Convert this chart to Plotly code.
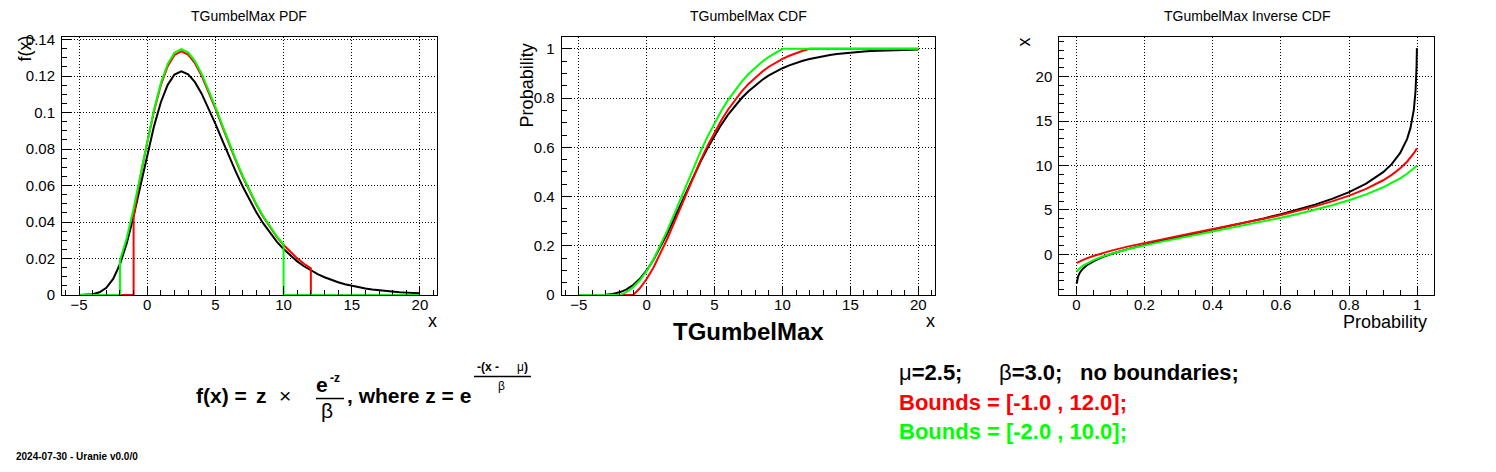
import plotly.graph_objects as go

# ---------------- data ----------------
X_GRID = [-5, -4.5, -4, -3.5, -3, -2.5, -2, -1.5, -1, -0.5, 0, 0.5, 1, 1.5, 2, 2.5, 3, 3.5,
          4, 4.5, 5, 5.5, 6, 6.5, 7, 7.5, 8, 8.5, 9, 9.5, 10, 10.5, 11, 11.5, 12, 12.5, 13,
          13.5, 14, 14.5, 15, 15.5, 16, 16.5, 17, 17.5, 18, 18.5, 19, 19.5, 20]

PDF_BLACK = [0.00002, 0.00011, 0.00047, 0.00152, 0.00400, 0.00885, 0.01690, 0.02847, 0.04315,
             0.05979, 0.07684, 0.09259, 0.10568, 0.11521, 0.12084, 0.12263, 0.12103, 0.11666,
             0.11024, 0.10242, 0.09381, 0.08488, 0.07603, 0.06751, 0.05950, 0.05212, 0.04542,
             0.03940, 0.03405, 0.02934, 0.02521, 0.02161, 0.01849, 0.01579, 0.01347, 0.01147,
             0.00977, 0.00831, 0.00706, 0.00599, 0.00509, 0.00432, 0.00366, 0.00311, 0.00263,
             0.00223, 0.00189, 0.00160, 0.00136, 0.00115, 0.00097]

RED_PDF_X = [-5, -1, -1, -0.5, 0, 0.5, 1, 1.5, 2, 2.5, 3, 3.5, 4, 4.5, 5, 5.5, 6, 6.5, 7, 7.5,
             8, 8.5, 9, 9.5, 10, 10.5, 11, 11.5, 12, 12, 20]
RED_PDF_Y = [0, 0, 0.043, 0.06510, 0.08367, 0.10082, 0.11507, 0.12545, 0.13158, 0.13353,
             0.13178, 0.12703, 0.12004, 0.11152, 0.10215, 0.09242, 0.08279, 0.07351, 0.06479,
             0.05675, 0.04946, 0.04290, 0.03708, 0.03195, 0.02745, 0.02353, 0.02013, 0.01719,
             0.01467, 0, 0]

GREEN_PDF_X = [-5, -2, -2, -1.5, -1, -0.5, 0, 0.5, 1, 1.5, 2, 2.5, 3, 3.5, 4, 4.5, 5, 5.5, 6,
               6.5, 7, 7.5, 8, 8.5, 9, 9.5, 10, 10, 20]
GREEN_PDF_Y = [0, 0, 0.019, 0.03129, 0.04742, 0.06571, 0.08445, 0.10176, 0.11614, 0.12662,
               0.13281, 0.13477, 0.13301, 0.12821, 0.12116, 0.11256, 0.10310, 0.09329, 0.08356,
               0.07420, 0.06539, 0.05728, 0.04992, 0.04330, 0.03742, 0.03225, 0.02771, 0, 0]

CDF_BLACK = [0.00001, 0.00003, 0.00016, 0.00062, 0.00192, 0.00502, 0.01131, 0.02251, 0.04031,
             0.06599, 0.10019, 0.14262, 0.19230, 0.24766, 0.30685, 0.36788, 0.42891, 0.48846,
             0.54524, 0.59844, 0.64756, 0.69220, 0.73243, 0.76832, 0.80003, 0.82788, 0.85225,
             0.87342, 0.89176, 0.90758, 0.92119, 0.93287, 0.94288, 0.95144, 0.95873, 0.96495,
             0.97026, 0.97476, 0.97859, 0.98185, 0.98462, 0.98696, 0.98895, 0.99064, 0.99207,
             0.99328, 0.99431, 0.99518, 0.99592, 0.99655, 0.99708]

RED_CDF_X = [-5, -1, -0.5, 0, 0.5, 1, 1.5, 2, 2.5, 3, 3.5, 4, 4.5, 5, 5.5, 6, 6.5, 7, 7.5, 8,
             8.5, 9, 9.5, 10, 10.5, 11, 11.5, 12, 20]
RED_CDF_Y = [0, 0, 0.02796, 0.06520, 0.11140, 0.16549, 0.22577, 0.29022, 0.35667, 0.42312,
             0.48796, 0.54978, 0.60771, 0.66119, 0.70979, 0.75360, 0.79268, 0.82720, 0.85753,
             0.88406, 0.90711, 0.92708, 0.94431, 0.95913, 0.97184, 0.98274, 0.99206, 1, 1]

GREEN_CDF_X = [-5, -2, -1.5, -1, -0.5, 0, 0.5, 1, 1.5, 2, 2.5, 3, 3.5, 4, 4.5, 5, 5.5, 6, 6.5,
               7, 7.5, 8, 8.5, 9, 9.5, 10, 20]
GREEN_CDF_Y = [0, 0, 0.01231, 0.03187, 0.06010, 0.09768, 0.14432, 0.19892, 0.25976, 0.32481,
               0.39189, 0.45896, 0.52441, 0.58681, 0.64528, 0.69927, 0.74833, 0.79254, 0.83199,
               0.86684, 0.89745, 0.92423, 0.94750, 0.96765, 0.98504, 1, 1]

P_GRID = [0.001, 0.005, 0.01, 0.02, 0.03, 0.05, 0.075, 0.1, 0.15, 0.2, 0.25, 0.3, 0.35, 0.4,
          0.45, 0.5, 0.55, 0.6, 0.65, 0.7, 0.75, 0.8, 0.85, 0.9, 0.925, 0.95, 0.97, 0.98, 0.99,
          0.995, 0.998, 0.999]
INV_BLACK = [-3.298, -2.502, -2.082, -1.592, -1.264, -0.792, -0.355, -0.002, 0.579, 1.072,
             1.520, 1.943, 2.354, 2.762, 3.175, 3.600, 4.043, 4.515, 5.026, 5.593, 6.238, 7.000,
             7.951, 9.251, 10.155, 11.411, 12.974, 14.206, 16.300, 18.387, 21.141, 23.222]
INV_RED = [-0.979, -0.897, -0.802, -0.627, -0.469, -0.189, 0.115, 0.385, 0.863, 1.291, 1.691,
           2.074, 2.450, 2.825, 3.205, 3.595, 4.002, 4.431, 4.892, 5.395, 5.957, 6.602, 7.370,
           8.338, 8.944, 9.683, 10.423, 10.867, 11.383, 11.676, 11.867, 11.932]
INV_GREEN = [-1.948, -1.765, -1.577, -1.278, -1.040, -0.661, -0.286, 0.028, 0.556, 1.009,
             1.422, 1.812, 2.189, 2.560, 2.933, 3.311, 3.702, 4.110, 4.542, 5.008, 5.518, 6.090,
             6.751, 7.545, 8.016, 8.558, 9.064, 9.347, 9.659, 9.824, 9.928, 9.964]

X_TICKS = [-5, 0, 5, 10, 15, 20]
X_TICK_TEXT = ["\u22125", "0", "5", "10", "15", "20"]
PDF_Y_TICKS = [0, 0.02, 0.04, 0.06, 0.08, 0.1, 0.12, 0.14]
PDF_Y_TEXT = ["0", "0.02", "0.04", "0.06", "0.08", "0.1", "0.12", "0.14"]
PROB_TICKS = [0, 0.2, 0.4, 0.6, 0.8, 1]
PROB_TEXT = ["0", "0.2", "0.4", "0.6", "0.8", "1"]
INV_Y_TICKS = [0, 5, 10, 15, 20]
INV_Y_TEXT = ["0", "5", "10", "15", "20"]

# ---------------- figure ----------------
W, H = 1496, 472
FONT = "Liberation Sans, Arial, Helvetica, sans-serif"
BLACK, RED, GREEN = "#000000", "#ff0000", "#00ff00"


def px(x):
    return x / W


def py(y):
    # target picture row -> paper fraction (the page photo is slightly squeezed vertically)
    y_spec = (y - 5.4) / 0.973
    return 1 - y_spec / H


def axis(domain, rng, tickvals, ticktext, minor_dtick, anchor, standoff):
    return dict(
        domain=domain, range=rng, anchor=anchor,
        tickmode="array", tickvals=tickvals, ticktext=ticktext,
        ticks="inside", ticklen=9, tickwidth=1, tickcolor="black",
        ticklabelstandoff=standoff,
        showline=True, linecolor="black", linewidth=1, mirror=True,
        showgrid=True, gridcolor="black", gridwidth=1, griddash="1px,2px",
        zeroline=False,
        minor=dict(ticks="inside", ticklen=5, tickwidth=1, tickcolor="black",
                   tick0=0, dtick=minor_dtick, showgrid=False),
        tickfont=dict(family=FONT, size=15, color="black"),
    )


fig = go.Figure()


def add_line(x, y, color, xa, ya):
    fig.add_trace(go.Scatter(x=x, y=y, mode="lines", line=dict(color=color, width=2),
                             xaxis=xa, yaxis=ya, showlegend=False, hoverinfo="skip"))


# PDF panel
add_line(X_GRID, PDF_BLACK, BLACK, "x", "y")
add_line(RED_PDF_X, RED_PDF_Y, RED, "x", "y")
add_line(GREEN_PDF_X, GREEN_PDF_Y, GREEN, "x", "y")
# CDF panel
add_line(X_GRID, CDF_BLACK, BLACK, "x2", "y2")
add_line(RED_CDF_X, RED_CDF_Y, RED, "x2", "y2")
add_line(GREEN_CDF_X, GREEN_CDF_Y, GREEN, "x2", "y2")
# Inverse CDF panel
add_line(P_GRID, INV_BLACK, BLACK, "x3", "y3")
add_line(P_GRID, INV_RED, RED, "x3", "y3")
add_line(P_GRID, INV_GREEN, GREEN, "x3", "y3")

ydom = [py(295.3), py(36.7)]
fig.update_layout(
    width=W, height=H, autosize=False,
    margin=dict(l=0, r=0, t=0, b=0, pad=0),
    paper_bgcolor="white", plot_bgcolor="white",
    font=dict(family=FONT, color="black"),
    showlegend=False,
    xaxis=axis([px(62), px(437)], [-6.25, 21.25], X_TICKS, X_TICK_TEXT, 1, "y", -4),
    yaxis=axis(ydom, [0, 0.1413], PDF_Y_TICKS, PDF_Y_TEXT, 0.005, "x", 3),
    xaxis2=axis([px(561.7), px(935.3)], [-6.25, 21.25], X_TICKS, X_TICK_TEXT, 1, "y2", -4),
    yaxis2=axis(ydom, [0, 1.047], PROB_TICKS, PROB_TEXT, 0.05, "x2", 3),
    xaxis3=axis([px(1059.3), px(1434.3)], [-0.05, 1.05], PROB_TICKS, PROB_TEXT, 0.05, "y3", -4),
    yaxis3=axis(ydom, [-4.6, 24.45], INV_Y_TICKS, INV_Y_TEXT, 1, "x3", 3),
)

ann = []


def text(x, y, s, size, color="black", xanchor="center", angle=0, yanchor="middle"):
    ann.append(dict(x=px(x), y=py(y), xref="paper", yref="paper", text=s, showarrow=False,
                    xanchor=xanchor, yanchor=yanchor, textangle=angle,
                    font=dict(family=FONT, size=size, color=color)))


# titles
text(249, 15, "TGumbelMax PDF", 14)
text(748, 15, "TGumbelMax CDF", 14)
text(1247, 15, "TGumbelMax Inverse CDF", 14)
# axis titles
text(432, 321, "x", 18)
text(25, 48, "f(x)", 18, angle=-90)
text(930, 321, "x", 18)
text(527, 85, "Probability", 18, angle=-90)
text(748, 332, "<b>TGumbelMax</b>", 24)
text(1024, 41, "x", 18, angle=-90)
text(1385, 322, "Probability", 18)

# formula
text(194, 396, "<b>f(x) =</b>", 21, xanchor="left")
text(261, 396, "<b>z</b>", 21)
text(285, 396, "\u00d7", 21)
text(322, 385, "<b>e</b>", 21)
text(335, 378, "<b>-z</b>", 12)
text(327, 411, "\u03b2", 21)
text(345, 396, "<b>, where z = e</b>", 21, xanchor="left")
text(475, 367, "<b>-(x -</b>", 12, xanchor="left")
text(530, 367, "\u03bc<b>)</b>", 12, xanchor="right")
text(501, 386, "\u03b2", 12)

# parameter block
text(897, 373, "\u03bc<b>=2.5;</b>", 22, xanchor="left")
text(997, 373, "\u03b2<b>=3.0;</b>", 22, xanchor="left")
text(1078, 373, "<b>no boundaries;</b>", 22, xanchor="left")
text(897, 403, "<b>Bounds = [-1.0 , 12.0];</b>", 22, RED, xanchor="left")
text(897, 432, "<b>Bounds = [-2.0 , 10.0];</b>", 22, GREEN, xanchor="left")

# footer
text(14, 464.5, "<b>2024-07-30 - Uranie v0.0/0</b>", 10, xanchor="left", yanchor="bottom")

fig.update_layout(
    annotations=ann,
    shapes=[
        dict(type="line", xref="paper", yref="paper", x0=px(316), x1=px(344), y0=py(399),
             y1=py(399), line=dict(color="black", width=1.5)),
        dict(type="line", xref="paper", yref="paper", x0=px(474), x1=px(531), y0=py(377),
             y1=py(377), line=dict(color="black", width=1.5)),
    ],
)

POST = (
    "document.documentElement.style.margin='0';"
    "document.documentElement.style.overflow='hidden';"
    "document.body.style.margin='0';"
    "document.body.style.overflow='hidden';"
    "var d=document.getElementById('{plot_id}');"
    "d.style.position='absolute';d.style.top='0px';d.style.left='0px';"
)

fig.write_html("out.html", config={"displayModeBar": False}, post_script=POST)
